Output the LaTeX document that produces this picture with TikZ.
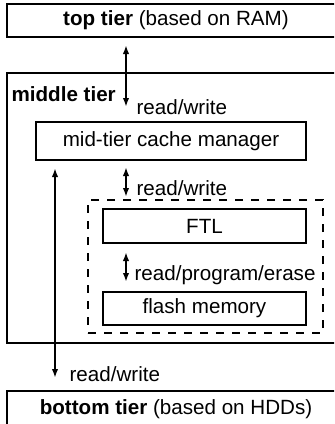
\documentclass[tikz,border=0pt]{standalone}
\usepackage{fontspec}
\setmainfont{Liberation Sans}
\usetikzlibrary{arrows.meta}

\begin{document}
\begin{tikzpicture}[>={Latex[length=4.2pt,width=3.2pt]}, x=0.5pt, y=-0.5pt, line width=0.6pt, <->,
    font=\fontsize{10.3}{12}\selectfont]
  \tikzstyle{T}=[draw, rectangle, inner sep=0pt, minimum width=169pt]
  \tikzstyle{S}=[draw, rectangle, inner sep=0pt, minimum width=101.5pt]
  \tikzstyle{L}=[anchor=west, inner sep=0pt]

  \clip (0,0) rectangle (334,424);

  \node[T, minimum height=16.5pt] at (176,20.5) (top) {\textbf{top tier} (based on RAM)};
  \node[T, minimum height=135pt] at (176,208) (mid) {};
  \node[T, minimum height=18pt] at (176,409) (bottom) {\textbf{bottom tier} (based on HDDs)};

  \node[L, font=\fontsize{10.3}{12}\selectfont\bfseries] at (11,94) (midname) {middle tier};

  \node[draw, inner sep=0pt, minimum width=135pt, minimum height=19pt] at (171,141) (cache) {mid-tier cache manager};
  \node[draw, dash pattern=on 4pt off 4pt, inner sep=0pt, minimum width=117.5pt, minimum height=66.5pt] at (205.5,266.5) (ssd) {};
  \node[S, minimum height=17pt] at (204.5,226) (ftl) {FTL};
  \node[S, minimum height=16.5pt] at (204.5,308.5) (flash) {flash memory};

  \coordinate (x1) at (126,0);
  \coordinate (x2) at (55,0);

  \draw [shorten <=4pt, shorten >=7.5pt] (top.south -| x1) to (cache.north -| x1);
  \draw [shorten <=3.5pt, shorten >=1.5pt] (cache.south -| x1) to (ssd.north -| x1);
  \draw [shorten <=4.5pt, shorten >=5pt] (ftl.south -| x1) to (flash.north -| x1);
  \draw [shorten <=4pt, shorten >=6.5pt] (cache.south -| x2) to (bottom.north -| x2);

  \node[L] at (136,107) (rw1) {read/write};
  \node[L] at (136,188) (rw2) {read/write};
  \node[L] at (134,275) (rpe) {read/program/erase};
  \node[L] at (69,374) (rw3) {read/write};

\end{tikzpicture}
\end{document}
